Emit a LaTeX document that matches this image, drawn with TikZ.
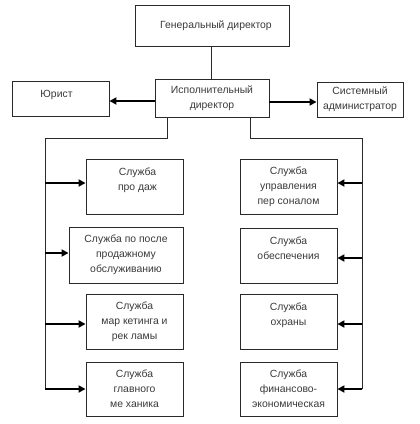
\documentclass[tikz,border=0pt]{standalone}
\usepackage{fontspec}
\setmainfont{Liberation Sans}
\usetikzlibrary{arrows.meta}
\definecolor{ink}{HTML}{2A2A2A}
\definecolor{txt}{HTML}{3A3A3A}
\tikzset{
  box/.style={draw=ink, line width=0.9pt, fill=white, inner sep=0pt, align=center,
    text=txt, font=\fontsize{10.4}{15}\selectfont},
  thin/.style={draw=ink, line width=0.9pt},
  arr/.style={draw=black, line width=1.8pt, -{Triangle[length=7pt,width=7pt]}},
}
\begin{document}
\begin{tikzpicture}[x=1pt,y=-1pt]
\useasboundingbox (0,0) rectangle (420,424);
\fill[white] (0,0) rectangle (420,424);
\node[box, minimum width=154pt, minimum height=41pt] (gd) at (212,25.5) {\hspace*{8pt}Генеральный директор};
\node[box, minimum width=114pt, minimum height=38pt] (ed) at (212,98) {Исполнительный\\директор};
\node[box, minimum width=97pt, minimum height=35pt] (ur) at (60.5,98.5) {Юрист\hspace*{8pt}\\[-6pt]\phantom{x}};
\node[box, minimum width=86pt, minimum height=35pt] (sa) at (360,99.5) {Системный\\администратор};

\node[box, minimum width=97pt, minimum height=55pt] (l1) at (134.5,186.5) {\hspace*{6pt}Служба\\\hspace*{6pt}про даж\\\phantom{x}};
\node[box, minimum width=114pt, minimum height=56pt] (l2) at (126,255) {Служба по после\\продажному\\обслуживанию};
\node[box, minimum width=97pt, minimum height=55pt] (l3) at (134.5,321.5) {Служба\\мар кетинга и\\рек ламы};
\node[box, minimum width=97pt, minimum height=54pt] (l4) at (134.5,389) {Служба\\главного\\ме ханика};

\node[box, minimum width=97pt, minimum height=55pt] (r1) at (288.5,186.5) {Служба\\управления\\пер соналом};
\node[box, minimum width=97pt, minimum height=55pt] (r2) at (288.5,255.5) {Служба\\обеспечения\\\phantom{x}};
\node[box, minimum width=97pt, minimum height=55pt] (r3) at (288.5,321.5) {Служба\\охраны\\\phantom{x}};
\node[box, minimum width=97pt, minimum height=54pt] (r4) at (288.5,389) {Служба\\финансово-\\экономическая};

% top connector
\draw[thin] (gd.south -| 211,0) -- (ed.north -| 211,0);
% side arrows
\coordinate (el) at (155,101);
\coordinate (er) at (269,102);
\draw[arr] (el) -- (el -| ur.east);
\draw[arr] (er) -- (er -| sa.west);
% buses
\coordinate (blt) at (45,138);
\coordinate (blb) at (45,389);
\coordinate (brt) at (362,138);
\coordinate (brb) at (362,389);
\draw[thin] (ed.south -| 167,0) |- (blt) -- (blb);
\draw[thin] (ed.south -| 250,0) |- (brt) -- (brb);
% left arrows
\coordinate (a1) at (45,183);
\coordinate (a2) at (45,253);
\coordinate (a3) at (45,324);
\draw[arr] (a1) -- (a1 -| l1.west);
\draw[arr] (a2) -- (a2 -| l2.west);
\draw[arr] (a3) -- (a3 -| l3.west);
\draw[arr] (blb) -- (blb -| l4.west);
% right arrows
\coordinate (b1) at (362,183);
\coordinate (b2) at (362,258);
\coordinate (b3) at (362,324);
\draw[arr] (b1) -- (b1 -| r1.east);
\draw[arr] (b2) -- (b2 -| r2.east);
\draw[arr] (b3) -- (b3 -| r3.east);
\draw[arr] (brb) -- (brb -| r4.east);
\end{tikzpicture}
\end{document}
